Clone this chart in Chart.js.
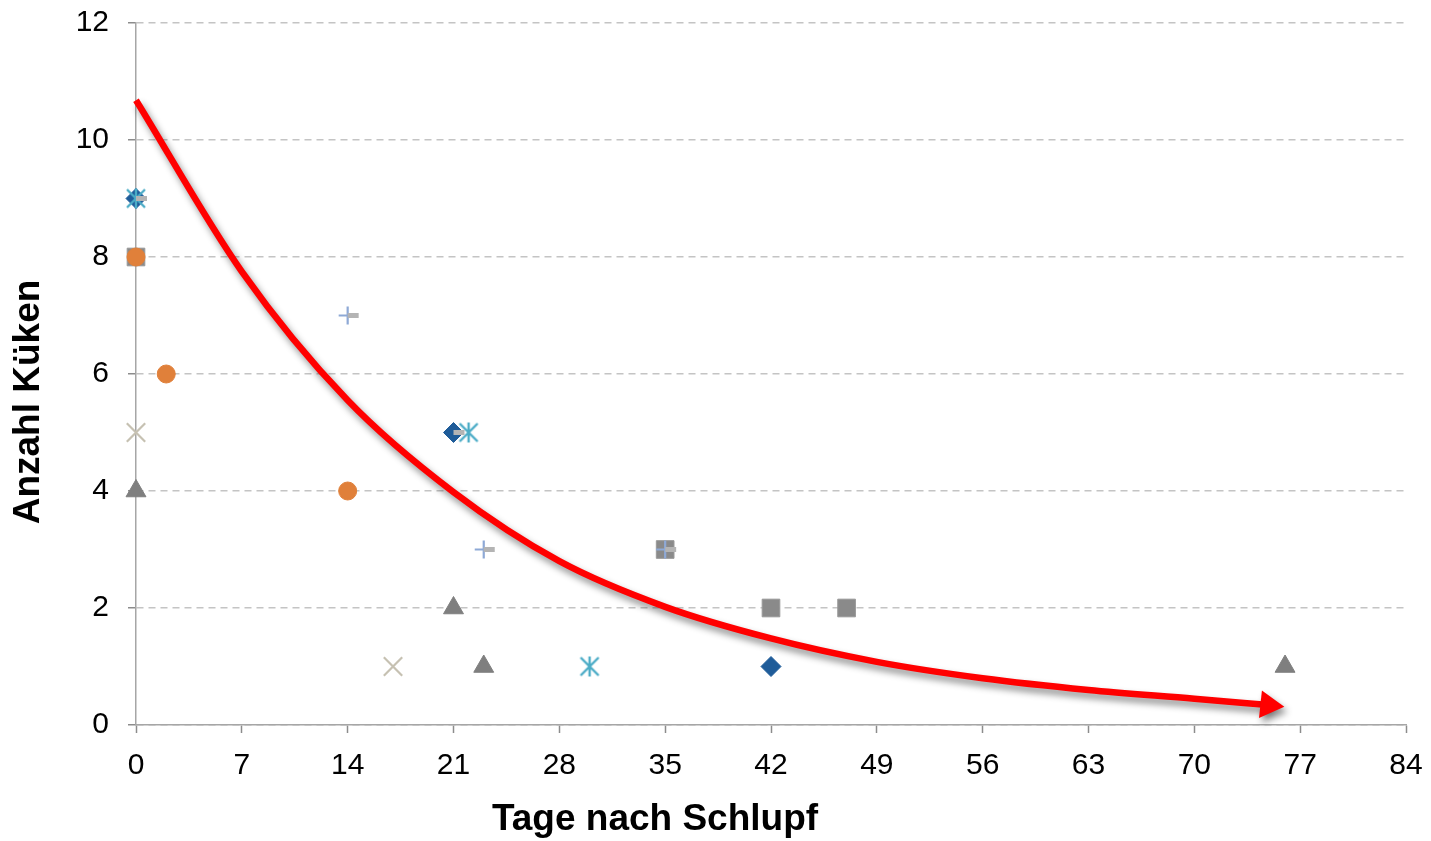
<!DOCTYPE html>
<html>
<head>
<meta charset="utf-8">
<script src="https://cdn.jsdelivr.net/npm/chart.js@4.4.1/dist/chart.umd.min.js"></script>
<style>
html,body{margin:0;padding:0;background:#fff;}
#wrap{width:1431px;height:841px;}
</style>
</head>
<body>
<div id="wrap"><canvas id="c" width="1431" height="841"></canvas></div>
<script>
// ---- data ----
const xTicks = [0,7,14,21,28,35,42,49,56,63,70,77,84];
const yTicks = [0,2,4,6,8,10,12];
const xTitle = 'Tage nach Schlupf';
const yTitle = 'Anzahl Küken';

const diamondX = [0,21,42];       const diamondY = [9,5,1];
const squareX = [0,35,42,47];     const squareY = [8,3,2,2];
const triangleX = [0,21,23,76];   const triangleY = [4,2,1,1];
const crossX = [0,17];            const crossY = [5,1];
const asteriskX = [0,22,30];      const asteriskY = [9,5,1];
const circleX = [0,2,14];         const circleY = [8,6,4];
const plusX = [0,14,21,23,35];    const plusY = [9,7,5,3,3];
const dashX = [0,14,21,23,35];    const dashY = [9,7,5,3,3];

const curveX = [0,7,14,21,28,35,42,49,56,63,70,74.9];
const curveY = [10.68,7.75,5.55,3.98,2.8,2.02,1.48,1.08,0.8,0.6,0.45,0.34];

// ---- helpers ----
function pts(xs, ys){ return xs.map((x,i)=>({x:x, y:ys[i]})); }

function asteriskImg(color){
  const c = document.createElement('canvas');
  c.width = 24; c.height = 24;
  const g = c.getContext('2d');
  g.strokeStyle = color; g.lineWidth = 2.4; g.lineCap = 'butt';
  g.beginPath();
  g.moveTo(12,2); g.lineTo(12,22);
  g.moveTo(3,3); g.lineTo(21,21);
  g.moveTo(21,3); g.lineTo(3,21);
  g.stroke();
  return c;
}

const FONT = "'Liberation Sans', Arial, sans-serif";

const shadowPlugin = {
  id: 'curveShadow',
  beforeDatasetDraw(chart, args){
    const ds = chart.data.datasets[args.index];
    if (ds.isCurve){
      const ctx = chart.ctx;
      ctx.save();
      ctx.shadowColor = 'rgba(0,0,0,0.45)';
      ctx.shadowBlur = 7;
      ctx.shadowOffsetX = 3;
      ctx.shadowOffsetY = 5;
    }
  },
  afterDatasetDraw(chart, args){
    const ds = chart.data.datasets[args.index];
    if (ds.isCurve){ chart.ctx.restore(); }
  }
};

const titlePlugin = {
  id: 'axisTitles',
  afterDraw(chart){
    const ctx = chart.ctx;
    ctx.save();
    ctx.fillStyle = '#000';
    ctx.font = 'bold 37px ' + FONT;
    ctx.textAlign = 'center';
    ctx.textBaseline = 'middle';
    ctx.fillText(xTitle, 655, 820);
    ctx.translate(29, 402);
    ctx.rotate(-Math.PI/2);
    ctx.fillText(yTitle, 0, 0);
    ctx.restore();
  }
};

const n = curveX.length;
const arrowRadius = curveX.map((v,i)=> i===n-1 ? 16 : 0);
const arrowRot = curveX.map((v,i)=> i===n-1 ? 96 : 0);

new Chart(document.getElementById('c'), {
  type: 'scatter',
  data: {
    datasets: [
      { type:'line', isCurve:true, data: pts(curveX,curveY), borderColor:'#FF0000', backgroundColor:'#FF0000',
        borderWidth:6.5, cubicInterpolationMode:'monotone', fill:false, clip:false,
        pointStyle:'triangle', pointRadius: arrowRadius, pointRotation: arrowRot, pointBorderWidth:0,
        pointBackgroundColor:'#FF0000', order:0 },
      { data: pts(dashX,dashY), pointStyle:'dash', pointRadius:11, borderColor:'#B4B4B4', borderWidth:5, backgroundColor:'#B4B4B4', order:1, clip:false },
      { data: pts(asteriskX,asteriskY), pointStyle: asteriskImg('#4BACC6'), pointRadius:12, order:2, clip:false },
      { data: pts(diamondX,diamondY), pointStyle:'rectRot', pointRadius:10, backgroundColor:'#1F5C99', borderColor:'#1F5C99', borderWidth:1, order:3, clip:false },
      { data: pts(plusX,plusY), pointStyle:'cross', pointRadius:9, borderColor:'#8EA9D6', borderWidth:2.2, order:4, clip:false },
      { data: pts(circleX,circleY), pointStyle:'circle', pointRadius:9, backgroundColor:'#E0803A', borderColor:'#E0803A', borderWidth:1, order:5, clip:false },
      { data: pts(crossX,crossY), pointStyle:'crossRot', pointRadius:13, borderColor:'#C6C1B2', borderWidth:2.2, order:6, clip:false },
      { data: pts(triangleX,triangleY), pointStyle:'triangle', pointRadius:11.5, backgroundColor:'#7F7F7F', borderColor:'#7F7F7F', borderWidth:1, order:7, clip:false },
      { data: pts(squareX,squareY), pointStyle:'rect', pointRadius:12.5, backgroundColor:'#8A8A8A', borderColor:'#9A9A9A', borderWidth:1, order:8, clip:false }
    ]
  },
  options: {
    responsive:false,
    devicePixelRatio:1,
    animation:false,
    events:[],
    layout:{ padding:{ left:0, right:25, top:23, bottom:0 } },
    plugins:{ legend:{display:false}, tooltip:{enabled:false} },
    scales:{
      x:{
        type:'linear', min:0, max:84,
        afterBuildTicks(s){ s.ticks = xTicks.map(v=>({value:v})); },
        afterFit(s){ s.height = 116; s.paddingLeft = 0; s.paddingRight = 0; },
        grid:{ display:true, drawOnChartArea:false, drawTicks:true, tickLength:8, tickColor:'#8C8C8C', tickWidth:1.5 },
        border:{ display:true, color:'#A6A6A6', width:1.5 },
        ticks:{ color:'#000', font:{ family:FONT, size:30 }, padding:15, maxRotation:0, autoSkip:false }
      },
      y:{
        type:'linear', min:0, max:12,
        afterBuildTicks(s){ s.ticks = yTicks.map(v=>({value:v})); },
        afterFit(s){ s.width = 136; s.paddingTop = 0; s.paddingBottom = 0; },
        grid:{ display:true, color:'#C4C4C4', lineWidth:1.5, drawTicks:true, tickLength:8, tickColor:'#8C8C8C', tickWidth:1.5, tickBorderDash:[] },
        border:{ display:true, color:'#A6A6A6', width:1.5, dash:[7,5] },
        ticks:{ color:'#000', font:{ family:FONT, size:30 }, padding:19, autoSkip:false }
      }
    }
  },
  plugins:[shadowPlugin, titlePlugin]
});
</script>
</body>
</html>
